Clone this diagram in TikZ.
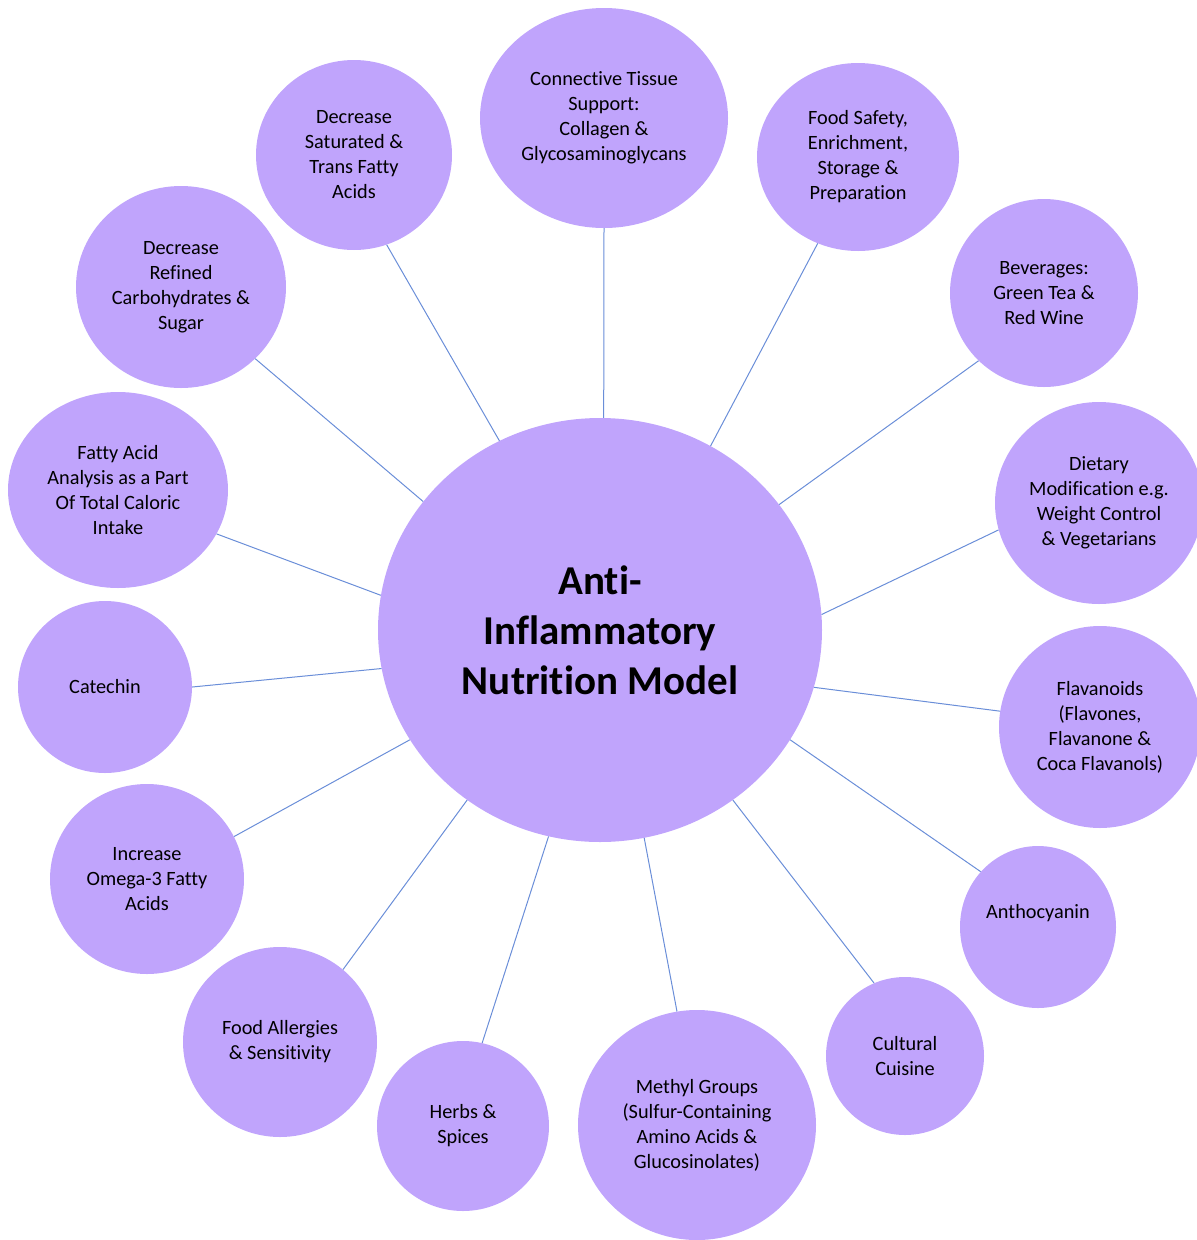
\documentclass[tikz,border=0pt]{standalone}
\usepackage{fontspec}
\setmainfont{Carlito}[Ligatures={NoCommon,NoContextual}]
\usetikzlibrary{shapes.geometric}
\definecolor{bub}{HTML}{C0A4FC}
\definecolor{conn}{HTML}{6A8ED8}
\tikzset{
  bubble/.style={ellipse, fill=bub, draw=none, inner sep=0pt, align=center,
    font=\fontsize{20.3}{25}\selectfont, text=black},
  hub/.style={bubble, font=\fontsize{41}{50}\selectfont\bfseries},
  link/.style={draw=conn, line width=1pt}
}
\newcommand{\bub}[6]{\node[bubble, minimum width=#4pt, minimum height=#5pt] (#1) at (#2,#3) {#6};}
\begin{document}
\begin{tikzpicture}[x=1pt,y=-1pt]
\useasboundingbox (0,0) rectangle (1197,1240);
\node[hub, minimum width=444pt, minimum height=424pt] (c) at (600,630) {Anti-\\Inflammatory\\Nutrition Model};
\bub{ct}{604}{118}{248}{220}{Connective Tissue\\Support:\\Collagen \&\\Glycosaminoglycans}
\bub{sat}{354}{155}{196}{190}{Decrease\\Saturated \&\\Trans Fatty\\Acids}
\bub{fs}{858}{157}{202}{188}{Food Safety,\\Enrichment,\\Storage \&\\Preparation}
\bub{ref}{181}{287}{210}{202}{Decrease\\Refined\\Carbohydrates \&\\Sugar}
\bub{bev}{1044}{293}{188}{188}{Beverages:\\Green Tea \&\\Red Wine}
\bub{fa}{118}{490}{220}{196}{Fatty Acid\\Analysis as a Part\\Of Total Caloric\\Intake}
\bub{diet}{1099}{503}{208}{202}{Dietary\\Modification e.g.\\Weight Control\\\& Vegetarians}
\bub{cat}{105}{687}{174}{172}{Catechin}
\bub{fla}{1100}{727}{202}{202}{Flavanoids\\(Flavones,\\Flavanone \&\\Coca Flavanols)}
\bub{om}{147}{879}{194}{190}{Increase\\Omega-3 Fatty\\Acids}
\bub{ant}{1038}{927}{156}{162}{\smash{\raisebox{9pt}{Anthocyanin}}}
\bub{all}{280}{1042}{194}{190}{Food Allergies\\\& Sensitivity}
\bub{cul}{905}{1056}{158}{158}{Cultural\\Cuisine}
\bub{herb}{463}{1126}{172}{170}{Herbs \&\\Spices}
\bub{me}{697}{1125}{238}{230}{Methyl Groups\\(Sulfur-Containing\\Amino Acids \&\\Glucosinolates)}
\draw[link] (c.89) -- (ct.270);
\draw[link] (c.118) -- (sat.290.7);
\draw[link] (c.59.2) -- (fs.245);
\draw[link] (c.144.4) -- (ref.316.5);
\draw[link] (c.35.1) -- (bev.226.7);
\draw[link] (c.171.7) -- (fa.336.8);
\draw[link] (c.4.4) -- (diet.195.5);
\draw[link] (c.190.9) -- (cat.0);
\draw[link] (c.-15.3) -- (fla.171.5);
\draw[link] (c.210.6) -- (om.26);
\draw[link] (c.-30.3) -- (ant.136.5);
\draw[link] (c.232) -- (all.49.6);
\draw[link] (c.308.2) -- (cul.113.4);
\draw[link] (c.256) -- (herb.77.3);
\draw[link] (c.282.5) -- (me.100.5);
\end{tikzpicture}
\end{document}
